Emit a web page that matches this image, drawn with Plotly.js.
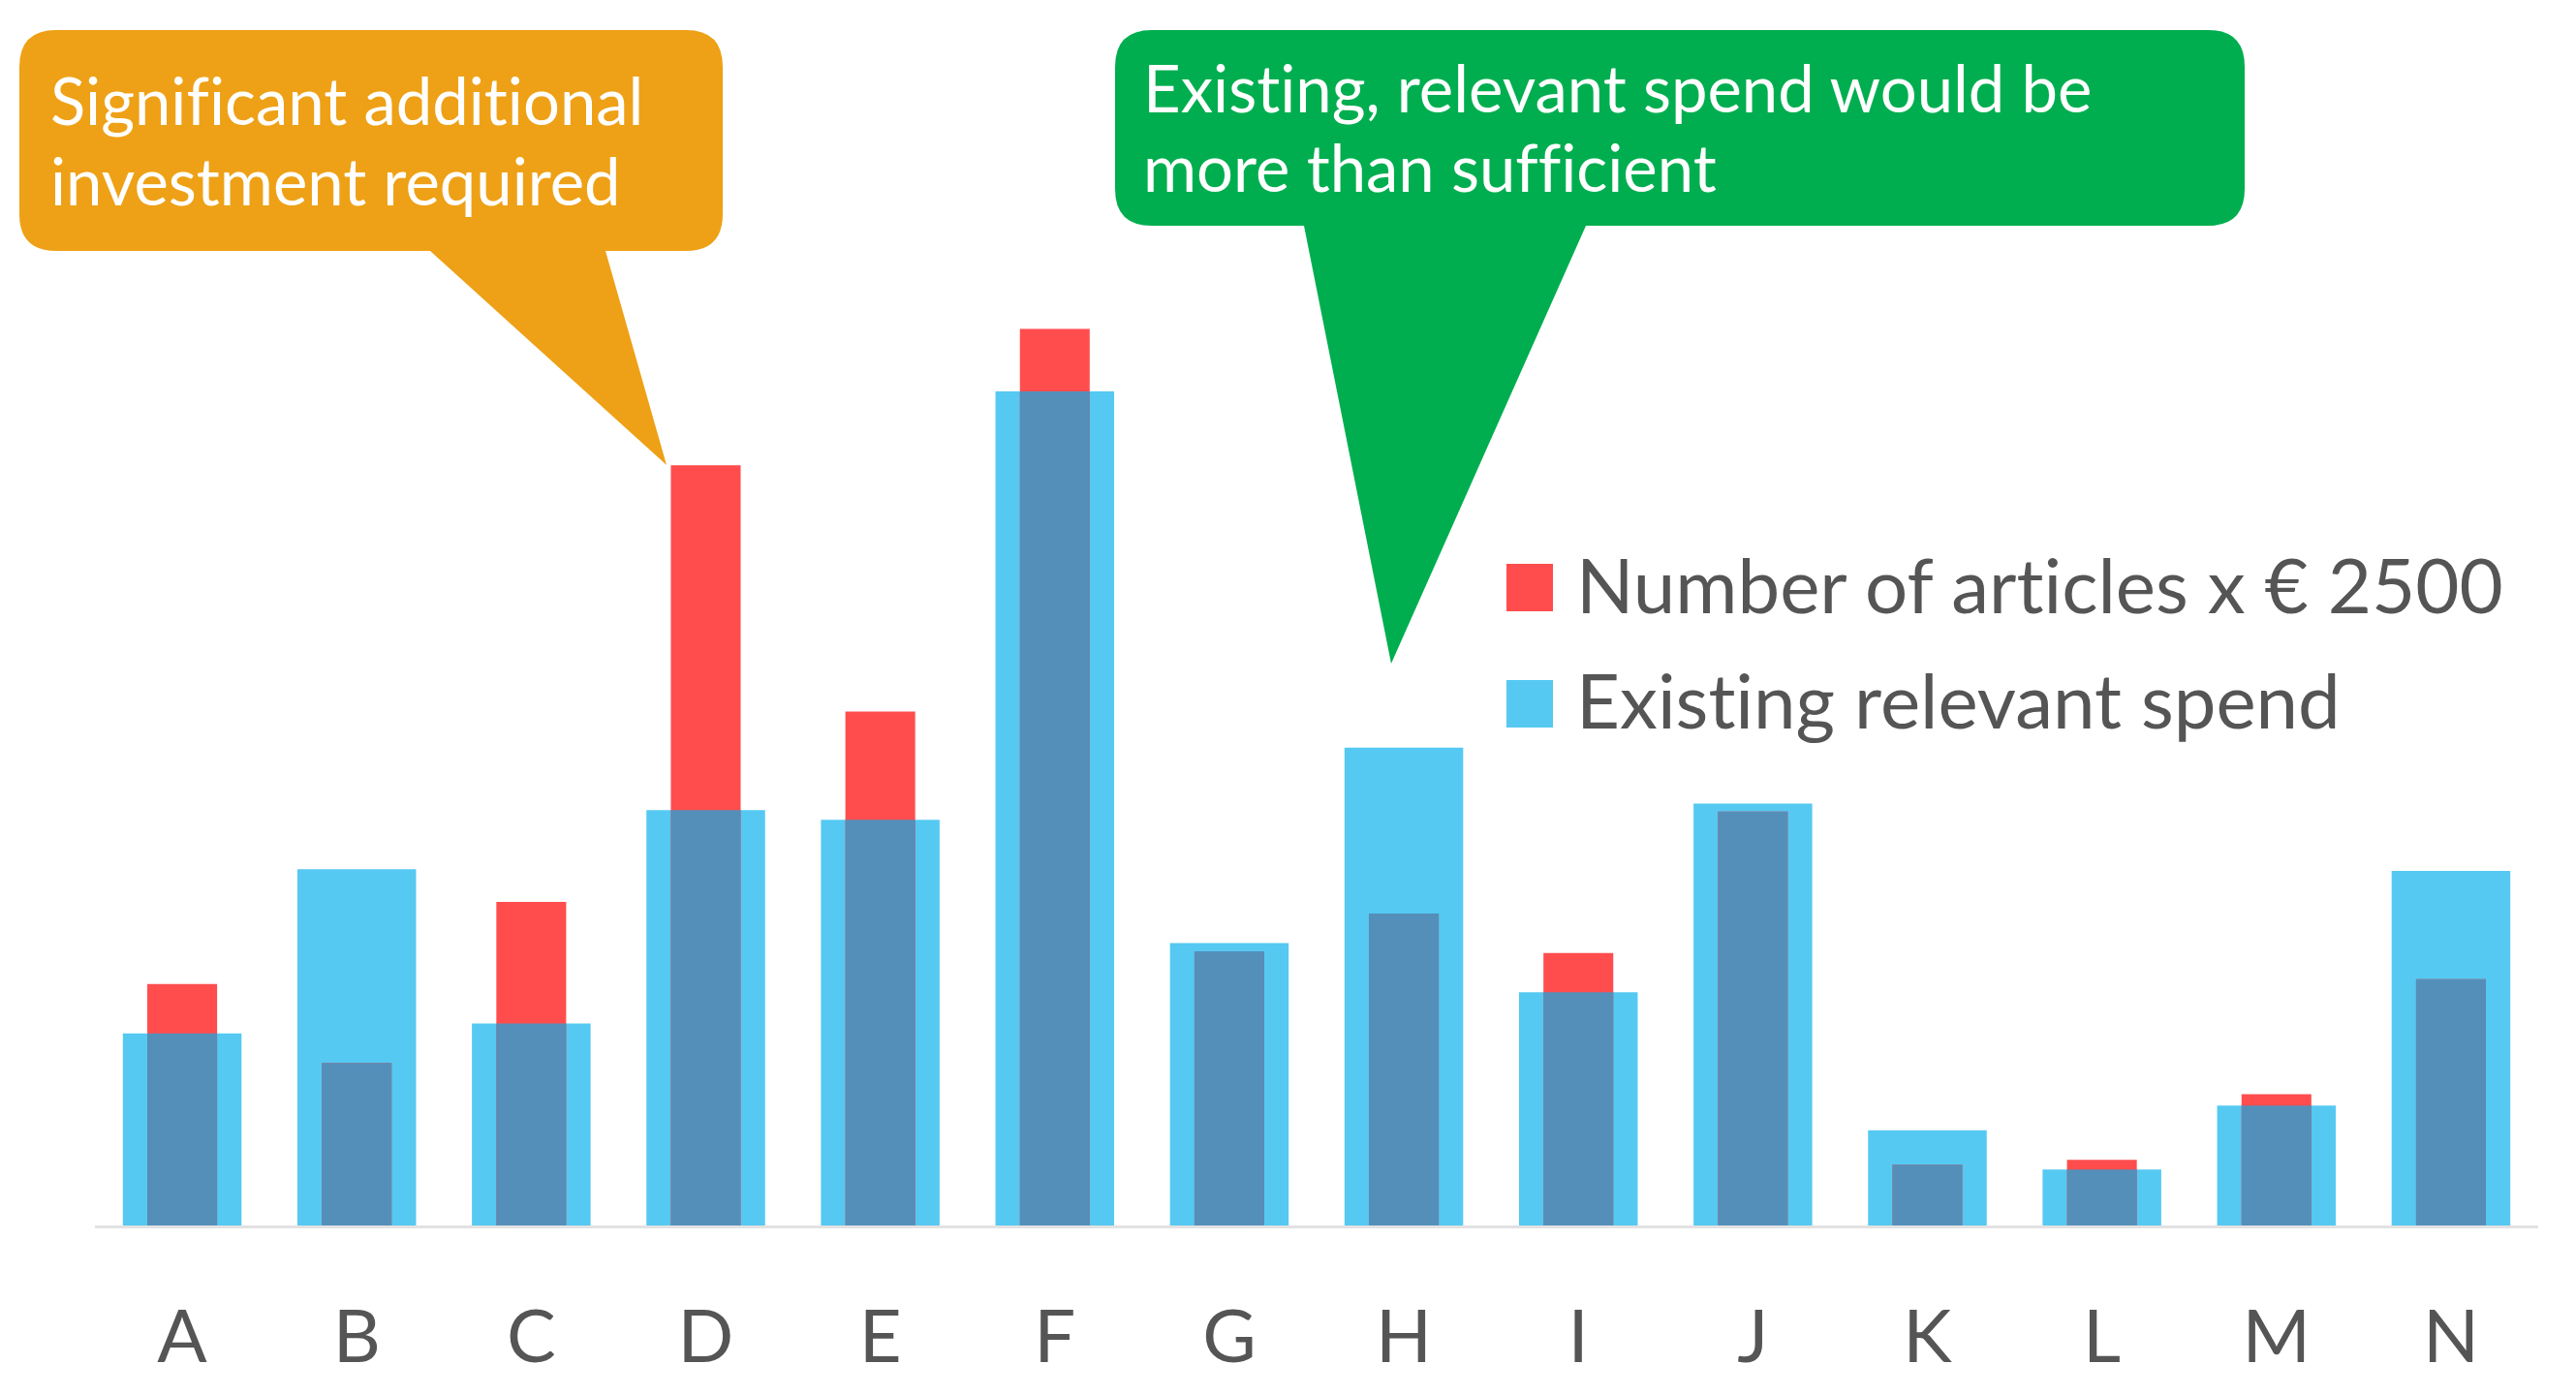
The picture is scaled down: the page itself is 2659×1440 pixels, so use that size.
<!DOCTYPE html>
<html>
<head>
<meta charset="utf-8">
<script src="https://cdn.plot.ly/plotly-3.0.1.min.js"></script>
<style>
  html, body { margin: 0; padding: 0; background: #ffffff; }
  #chart { width: 2659px; height: 1440px; }
  #chart text { font-variant-ligatures: none; font-feature-settings: "liga" 0, "clig" 0; }
</style>
</head>
<body>
<div id="chart"></div>
<script>
// ---- data (arbitrary units) ----
const categories = ["A", "B", "C", "D", "E", "F", "G", "H", "I", "J", "K", "L", "M", "N"];
const articleCost = [147, 99, 197, 463, 313, 546, 167, 190, 166, 252, 37, 40, 80, 150];
const existingSpend = [117, 217, 123, 253, 247, 508, 172, 291, 142, 257, 58, 34, 73, 216];
const seriesNames = ["Number of articles x € 2500", "Existing relevant spend"];
const orangeLines = ["Significant additional", "investment required"];
const greenLines = ["Existing, relevant spend would be", "more than sufficient"];

// ---- styles ----
const RED = "#FF4D4E";
const BLUE = "#55C9F2";
const DARK = "#548FBA";
const ORANGE = "#EEA116";
const GREEN = "#00AE4F";
const GREY = "#555555";
const FONT = "Lato, 'Open Sans', sans-serif";

// ---- page geometry (pixels) ----
const W = 2659, H = 1440;
const L = 98, R = 2620, T = 248, B = 1265;
const px = x => (x - L) / (R - L);
const py = y => (B - y) / (B - T);

const overlap = articleCost.map((v, i) => Math.min(v, existingSpend[i]));

const traces = [
  { type: "bar", x: categories, y: existingSpend, width: 0.68, name: seriesNames[1],
    marker: { color: BLUE, line: { width: 0 } }, hoverinfo: "x+y", showlegend: false },
  { type: "bar", x: categories, y: articleCost, width: 0.40, name: seriesNames[0],
    marker: { color: RED, line: { width: 0 } }, hoverinfo: "x+y", showlegend: false },
  { type: "bar", x: categories, y: overlap, width: 0.40, name: "overlap",
    marker: { color: DARK, line: { width: 0 } }, hoverinfo: "skip", showlegend: false }
];

function callout(x0, x1, y0, y1, r, bl, br, tipX, tipY) {
  const P = (x, y) => px(x) + "," + py(y);
  return "M" + P(x0 + r, y0) +
    " L" + P(x1 - r, y0) +
    " Q" + P(x1, y0) + " " + P(x1, y0 + r) +
    " L" + P(x1, y1 - r) +
    " Q" + P(x1, y1) + " " + P(x1 - r, y1) +
    " L" + P(br, y1) +
    " L" + P(tipX, tipY) +
    " L" + P(bl, y1) +
    " L" + P(x0 + r, y1) +
    " Q" + P(x0, y1) + " " + P(x0, y1 - r) +
    " L" + P(x0, y0 + r) +
    " Q" + P(x0, y0) + " " + P(x0 + r, y0) + " Z";
}

const shapes = [
  { type: "path", xref: "paper", yref: "paper", layer: "above",
    path: callout(20, 746, 31, 259, 38, 444, 625, 688, 480),
    fillcolor: ORANGE, line: { width: 0 } },
  { type: "path", xref: "paper", yref: "paper", layer: "above",
    path: callout(1151, 2317, 31, 233, 38, 1346, 1637, 1436, 685),
    fillcolor: GREEN, line: { width: 0 } },
  // legend swatches
  { type: "rect", xref: "paper", yref: "paper",
    x0: px(1555), x1: px(1603), y0: py(582), y1: py(631),
    fillcolor: RED, line: { width: 0 } },
  { type: "rect", xref: "paper", yref: "paper",
    x0: px(1555), x1: px(1603), y0: py(702), y1: py(751),
    fillcolor: BLUE, line: { width: 0 } }
];

function textLine(text, x, yMid, size, color) {
  return { xref: "paper", yref: "paper", x: px(x), y: py(yMid), xanchor: "left", yanchor: "middle",
    text: text, showarrow: false, align: "left",
    font: { family: FONT, size: size, color: color } };
}

const annotations = [
  textLine(orangeLines[0], 50, 103, 67, "#ffffff"),
  textLine(orangeLines[1], 50, 186, 67, "#ffffff"),
  textLine(greenLines[0], 1178, 90, 67, "#ffffff"),
  textLine(greenLines[1], 1178, 172, 67, "#ffffff"),
  textLine(seriesNames[0], 1625, 603, 78, GREY),
  textLine(seriesNames[1], 1625, 722, 78, GREY)
];

const layout = {
  width: W, height: H,
  margin: { l: L, r: W - R, t: T, b: H - B, pad: 0 },
  paper_bgcolor: "#ffffff", plot_bgcolor: "#ffffff",
  barmode: "overlay",
  showlegend: false,
  font: { family: FONT, color: GREY },
  xaxis: {
    type: "category", range: [-0.5, 13.5],
    showgrid: false, zeroline: false,
    showline: true, linecolor: "#e2e2e2", linewidth: 3,
    ticks: "", ticklabelstandoff: 47,
    tickfont: { family: FONT, size: 76, color: GREY }
  },
  yaxis: {
    range: [0, 600], visible: false, showgrid: false, zeroline: false, fixedrange: true
  },
  shapes: shapes,
  annotations: annotations
};

Plotly.newPlot("chart", traces, layout, { displayModeBar: false, staticPlot: true });
</script>
</body>
</html>
